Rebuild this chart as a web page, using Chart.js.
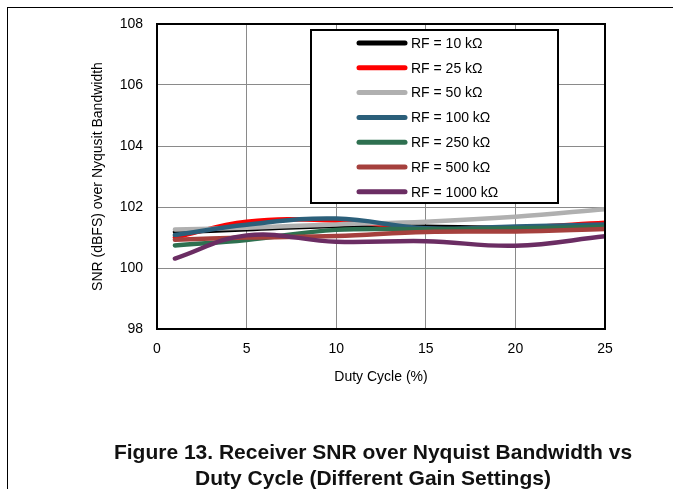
<!DOCTYPE html>
<html>
<head>
<meta charset="utf-8">
<script src="https://cdn.jsdelivr.net/npm/chart.js@4/dist/chart.umd.min.js"></script>
<style>
  body { margin: 0; background: #fff; }
  #wrap { position: relative; width: 673px; height: 489px; overflow: hidden; font-family: "Liberation Sans", Arial, sans-serif; }
  #frame { position: absolute; left: 7px; top: 7px; right: -2px; bottom: -2px; border-top: 1px solid #000; border-left: 1px solid #000; }
  #chart { position: absolute; left: 0; top: 0; }
  .caption { position: absolute; left: 0; top: 439px; width: 746px; text-align: center; font-weight: bold; font-size: 21px; line-height: 26px; color: #111; }
</style>
</head>
<body>
<div id="wrap">
  <div id="frame"></div>
  <canvas id="chart" width="673" height="489"></canvas>
  <div class="caption">Figure 13. Receiver SNR over Nyquist Bandwidth vs<br>Duty Cycle (Different Gain Settings)</div>
</div>
<script>
// duty cycle (%) where SNR was measured
const DUTY = [1, 5, 10, 15, 20, 25];

// SNR in dBFS for each feedback resistor
const RF_10 = [101.18, 101.27, 101.38, 101.35, 101.32, 101.38];
const RF_25 = [101.0, 101.52, 101.55, 101.28, 101.32, 101.48];
const RF_50 = [101.26, 101.32, 101.43, 101.52, 101.68, 101.93];
const RF_100 = [101.08, 101.42, 101.62, 101.3, 101.36, 101.43];
const RF_250 = [100.74, 100.92, 101.25, 101.27, 101.3, 101.35];
const RF_500 = [100.93, 101.0, 101.05, 101.18, 101.2, 101.28];
const RF_1000 = [100.31, 101.07, 100.86, 100.88, 100.73, 101.04];

const LABELS = ["RF = 10 kΩ", "RF = 25 kΩ", "RF = 50 kΩ", "RF = 100 kΩ", "RF = 250 kΩ", "RF = 500 kΩ", "RF = 1000 kΩ"];
const SERIES = [RF_10, RF_25, RF_50, RF_100, RF_250, RF_500, RF_1000];
const COLORS = ["#000000", "#ff0000", "#b0b0b0", "#2b5f7a", "#2e7050", "#a5403d", "#6b2d63"];

const Y_TICKS = [98, 100, 102, 104, 106, 108];
const X_TICKS = [0, 5, 10, 15, 20, 25];

Chart.defaults.font.family = "'Liberation Sans', Arial, sans-serif";
Chart.defaults.color = "#000";

// plot frame and boxed legend inside the plot
const frameAndLegend = {
  id: "frameAndLegend",
  afterDatasetsDraw(chart) {
    const { ctx, chartArea: a } = chart;
    ctx.save();
    ctx.strokeStyle = "#000";
    ctx.lineWidth = 2;
    ctx.strokeRect(a.left, a.top, a.right - a.left, a.bottom - a.top);

    const bx = 311, by = 30, bw = 247, bh = 173;
    ctx.fillStyle = "#fff";
    ctx.fillRect(bx, by, bw, bh);
    ctx.strokeRect(bx, by, bw, bh);

    ctx.font = "14px 'Liberation Sans', Arial, sans-serif";
    ctx.textBaseline = "middle";
    ctx.lineCap = "round";
    chart.data.datasets.forEach((ds, i) => {
      const y = 43 + i * 24.8;
      ctx.strokeStyle = ds.borderColor;
      ctx.lineWidth = 5;
      ctx.beginPath();
      ctx.moveTo(359, y);
      ctx.lineTo(405, y);
      ctx.stroke();
      ctx.fillStyle = "#000";
      ctx.fillText(ds.label, 411, y + 1);
    });
    ctx.restore();
  }
};

new Chart(document.getElementById("chart"), {
  type: "scatter",
  data: {
    datasets: SERIES.map((vals, i) => ({
      label: LABELS[i],
      data: vals.map((v, j) => ({ x: DUTY[j], y: v })),
      borderColor: COLORS[i],
      backgroundColor: COLORS[i],
      showLine: true,
      order: SERIES.length - 1 - i,
    })),
  },
  options: {
    responsive: false,
    animation: false,
    layout: { padding: { left: 0, top: 24, right: 68, bottom: 0 } },
    elements: {
      point: { radius: 0 },
      line: { tension: 0.4, borderWidth: 4.5, borderCapStyle: "round", borderJoinStyle: "round" },
    },
    plugins: { legend: { display: false }, tooltip: { enabled: false } },
    scales: {
      x: {
        type: "linear", min: 0, max: 25,
        afterBuildTicks: s => { s.ticks = X_TICKS.map(v => ({ value: v })); },
        afterFit: s => { s.height = 160; },
        ticks: { font: { size: 14 }, padding: 12 },
        grid: { color: "#8a8a8a", drawTicks: false },
        border: { display: false },
        title: { display: true, text: "Duty Cycle (%)", font: { size: 14 }, padding: { top: 0, bottom: 103 } },
      },
      y: {
        min: 98, max: 108,
        afterBuildTicks: s => { s.ticks = Y_TICKS.map(v => ({ value: v })); },
        afterFit: s => { s.width = 157; },
        ticks: { font: { size: 14 }, padding: 14 },
        grid: { color: "#8a8a8a", drawTicks: false },
        border: { display: false },
        title: { display: true, text: "SNR (dBFS) over Nyqusit Bandwidth", font: { size: 14 }, padding: { top: 90, bottom: 0 } },
      },
    },
  },
  plugins: [frameAndLegend],
});
</script>
</body>
</html>
